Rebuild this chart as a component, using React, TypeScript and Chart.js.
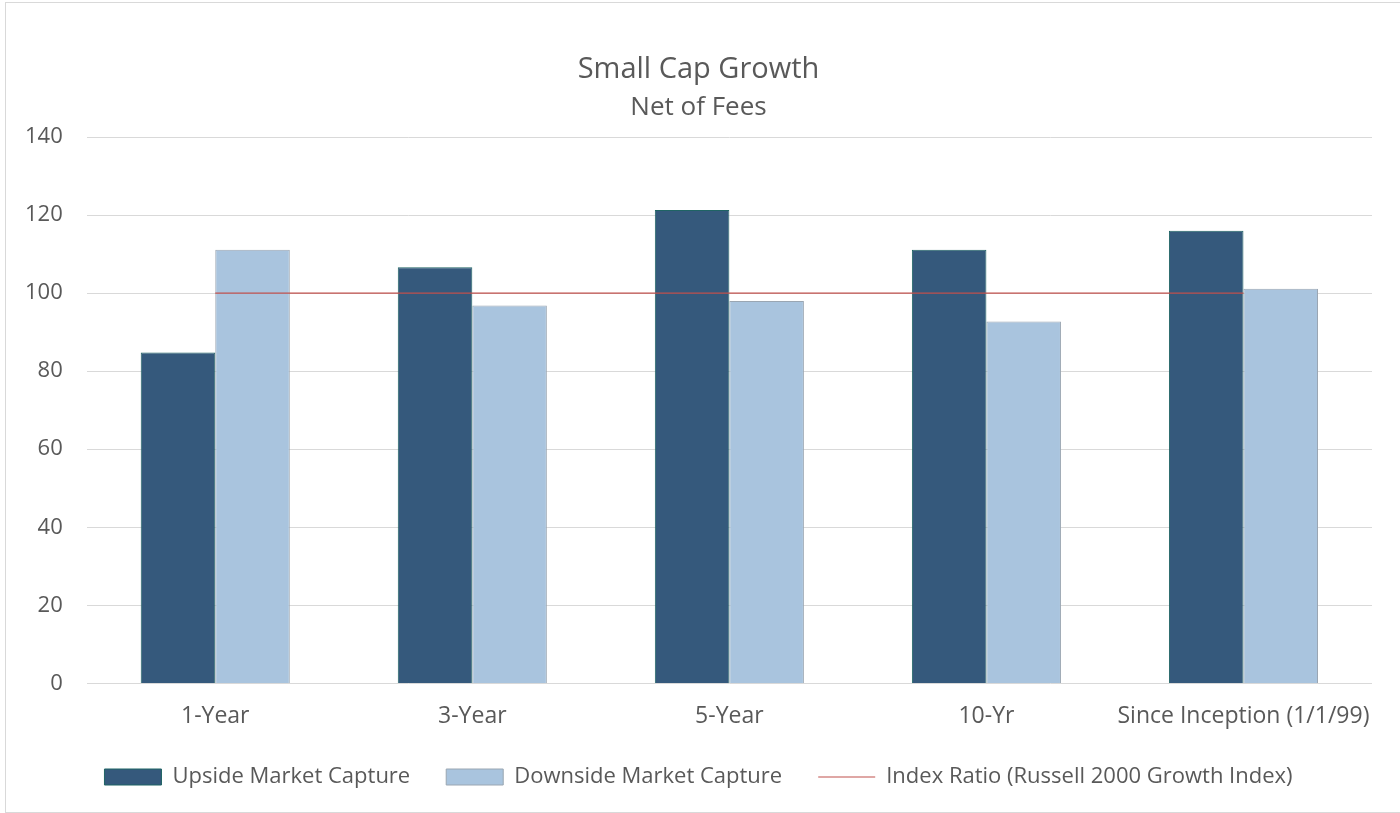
import React, { useEffect, useRef } from "react";
import { Chart, registerables } from "chart.js";

Chart.register(...registerables);

const categories = ["1-Year", "3-Year", "5-Year", "10-Yr", "Since Inception (1/1/99)"];
const upsideCapture = [84.8, 106.6, 121.3, 111.1, 116.0];
const downsideCapture = [111.1, 96.8, 98.0, 92.7, 101.1];
const indexRatio = [100, 100, 100, 100, 100];
const yTicks = [0, 20, 40, 60, 80, 100, 120, 140];

const FONT = "'Open Sans', 'Noto Sans', sans-serif";
const TEXT = "#595959";
const X_PAD = 19;
const Y_PAD = 24;

export default function App() {
  const ref = useRef<HTMLCanvasElement | null>(null);
  useEffect(() => {
    if (!ref.current) return;
    const chart = new Chart(ref.current, {
      data: {
        labels: categories,
        datasets: [
          {
            type: "line",
            label: "Index Ratio (Russell 2000 Growth Index)",
            data: indexRatio,
            borderColor: "#C0504D",
            backgroundColor: "#C0504D",
            borderWidth: 1.2,
            pointRadius: 0,
            pointStyle: "line",
            order: 0,
          },
          {
            type: "bar",
            label: "Upside Market Capture",
            data: upsideCapture,
            backgroundColor: "#35597C",
            borderColor: "#1F6464",
            borderWidth: 1,
            pointStyle: "rect",
            order: 1,
          },
          {
            type: "bar",
            label: "Downside Market Capture",
            data: downsideCapture,
            backgroundColor: "#A9C4DE",
            borderColor: "#9AA6B2",
            borderWidth: 1,
            pointStyle: "rect",
            order: 2,
          },
        ],
      } as any,
      options: {
        animation: false,
        responsive: false,
        maintainAspectRatio: false,
        layout: { padding: { left: 19, right: 28, top: 0, bottom: 14 } },
        datasets: {
          bar: { barPercentage: 1, categoryPercentage: 0.58 },
        } as any,
        plugins: {
          title: {
            display: true,
            text: "Small Cap Growth",
            color: TEXT,
            font: { family: FONT, size: 29, weight: "normal" },
            padding: { top: 49, bottom: 5 },
          },
          subtitle: {
            display: true,
            text: "Net of Fees",
            color: TEXT,
            font: { family: FONT, size: 26, weight: "normal" },
            padding: { top: 0, bottom: 14 },
          },
          legend: {
            position: "bottom",
            labels: {
              usePointStyle: true,
              pointStyleWidth: 57,
              boxHeight: 16,
              padding: 36,
              color: TEXT,
              font: { family: FONT, size: 22 },
              sort: (a: any, b: any) => {
                const order = [1, 2, 0];
                return order.indexOf(a.datasetIndex) - order.indexOf(b.datasetIndex);
              },
            },
          },
          tooltip: { enabled: false },
        },
        scales: {
          x: {
            grid: { display: false, drawTicks: false },
            border: { display: false },
            afterFit: (axis: any) => {
              axis.height -= X_PAD;
            },
            ticks: {
              color: TEXT,
              font: { family: FONT, size: 23 },
              padding: X_PAD,
              maxRotation: 0,
              minRotation: 0,
              autoSkip: false,
            },
          },
          y: {
            min: 0,
            max: 140,
            afterBuildTicks: (axis: any) => {
              axis.ticks = yTicks.map((v) => ({ value: v }));
            },
            afterFit: (axis: any) => {
              axis.width -= Y_PAD;
            },
            grid: { color: "#D9D9D9", lineWidth: 1, drawTicks: false },
            border: { display: false },
            ticks: { color: TEXT, font: { family: FONT, size: 22 }, padding: Y_PAD },
          },
        },
      } as any,
    });
    return () => chart.destroy();
  }, []);

  return (
    <div
      style={{
        position: "absolute",
        left: 5,
        top: 2,
        width: 1400,
        height: 809,
        border: "1px solid #D9D9D9",
        background: "#fff",
      }}
    >
      <canvas ref={ref} width={1394} height={809} style={{ display: "block" }} />
    </div>
  );
}
